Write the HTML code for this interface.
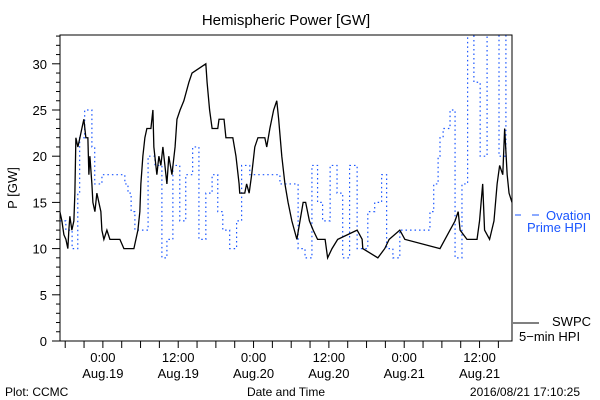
<!DOCTYPE html>
<html><head><meta charset="utf-8"><style>
body{margin:0;background:#fff;}
svg{display:block;font-family:"Liberation Sans",sans-serif;}
</style></head><body>
<svg id="chart" width="600" height="400" viewBox="0 0 600 400" xmlns="http://www.w3.org/2000/svg">
<rect width="600" height="400" fill="#fff"/>
<text x="286" y="25" font-size="15" text-anchor="middle">Hemispheric Power [GW]</text>
<text x="0" y="0" font-size="13" text-anchor="middle" transform="translate(17,188) rotate(-90)">P [GW]</text>
<text x="286" y="396" font-size="12" text-anchor="middle">Date and Time</text>
<text x="5" y="396" font-size="12">Plot: CCMC</text>
<text x="580" y="396" font-size="12" text-anchor="end">2016/08/21 17:10:25</text>
<g fill="#1a56ff" font-size="13">
<line x1="515" y1="215" x2="521" y2="215" stroke="#1a56ff"/><line x1="532" y1="215" x2="539" y2="215" stroke="#1a56ff"/>
<text x="546" y="220">Ovation</text><text x="527" y="232">Prime HPI</text>
</g>
<g font-size="13">
<line x1="513" y1="323" x2="539" y2="323" stroke="#000"/>
<text x="552" y="326">SWPC</text><text x="519" y="341">5−min HPI</text>
</g>
<defs><clipPath id="pc"><rect x="60" y="35" width="452" height="306"/></clipPath></defs>
<g id="axes"></g>
<g id="series" clip-path="url(#pc)"></g>
<rect x="60" y="35" width="452" height="306" fill="none" stroke="#000"/>
</svg>
<script>
const yTicks=[0,5,10,15,20,25,30];
const xTickHours=[0,12,24,36,48,60];
const xTickTimes=["0:00","12:00","0:00","12:00","0:00","12:00"];
const xTickDates=["Aug.19","Aug.19","Aug.20","Aug.20","Aug.21","Aug.21"];
const swpcHours=[-6.85,-6.53,-6.21,-5.89,-5.58,-5.42,-5.26,-4.94,-4.62,-4.46,-4.30,-3.98,-3.66,-3.35,-3.03,-2.71,-2.39,-2.23,-2.07,-1.75,-1.59,-1.27,-0.96,-0.64,-0.32,-0.16,0.16,0.64,1.12,2.71,3.35,4.94,5.26,5.58,5.89,6.05,6.37,6.69,7.01,7.65,7.97,8.12,8.44,8.60,8.92,9.24,9.56,9.88,10.2,10.5,11.0,11.5,11.8,12.3,12.9,13.7,14.2,16.4,16.6,17.0,17.4,18.3,18.5,19.3,19.6,20.7,21.2,21.7,21.8,22.6,22.9,23.3,23.7,24.2,24.7,25.8,26.1,26.6,27.2,27.7,28.0,28.5,29.0,29.5,30.1,30.9,31.4,31.9,32.3,32.9,33.5,34.2,35.4,35.8,36.5,37.4,40.5,41.3,41.4,43.8,44.9,45.6,47.3,48.1,53.7,54.5,55.3,56.1,56.6,56.9,58.0,59.6,60.0,60.5,60.8,61.6,62.3,62.8,63.2,63.7,64.0,64.4,64.7,65.17];
const swpcValues=[14,13,11.5,11,10,12,13.5,12,13,16,22,21,22,23,24,22,22,18,20,17,15,14,16,15,14,12,11,12,11,11,10,10,11,12,14,17,20,22,23,23,25,21,19,18,20,19,21,19,17,20,18,21,24,25,26,28,29,30,28,25,23,23,24,24,22,22,20,17,16,16,17,16,18,21,22,22,21,23,25,26,24,20,17,15,13,11,13,15,15,13,12,11,11,9,10,11,12,11,10,9,10,11,12,11,10,11,12,13,14,12,11,11,13,17,12,11,13,17,19,18,23,18,16,15];
const ovationHours=[-6.85,-5.9,-4.9,-4.0,-3.7,-2.9,-1.75,-1.3,-0.15,3.5,4.0,4.5,5.1,7.2,8.3,9.4,10.2,11.15,12.25,13.2,14.3,15.3,16.4,17.4,18.3,19.1,20.2,21.3,22.1,23.4,28.2,31.1,32.2,33.3,34.2,35.0,36.2,37.3,38.2,39.3,40.5,42.2,43.3,44.4,45.2,46.2,47.3,52.1,52.7,53.4,53.7,54.2,55.3,56.1,57.2,58.1,59.1,60.1,61.2,63.1,64.2,65.17];
const ovationValues=[13,12,10,16,22,25,21,17,18,17,16,14,12,20,19,9,11,19,13,18,21,11,16,18,14,12,10,13,19,18,17,10,9,19,15,13,19,16,9,19,10,14,15,18,10,9,12,14,17,20,22,23,25,9,17,34,28,20,34,20,34,34];
const X0=60,X1=512,T0=-6.83,T1=65.17,Y0=341,PPU=9.24;
function xs(t){return X0+(t-T0)*(X1-X0)/(T1-T0);}
function ys(v){return Y0-v*PPU;}
const NS="http://www.w3.org/2000/svg";
const axes=document.getElementById('axes'),series=document.getElementById('series');
function mk(tag,at,parent){const e=document.createElementNS(NS,tag);for(const k in at)e.setAttribute(k,at[k]);parent.appendChild(e);return e;}
for(let v=0;v<=33;v++){
  const major=v%5===0;
  const tk=mk('line',{x1:major?52:56,x2:60,y1:ys(v),y2:ys(v),stroke:'#000'},axes);
  
  
}
yTicks.forEach(v=>{
  const t=mk('text',{x:47,y:ys(v)+5,'font-size':13,'text-anchor':'end'},axes);t.textContent=v;
  
  
});
for(let h=-6;h<=65;h+=3){
  const tk=mk('line',{x1:xs(h),x2:xs(h),y1:341,y2:348,stroke:'#000'},axes);
  
  
}
xTickHours.forEach((h,i)=>{
  const a=mk('text',{x:xs(h),y:362,'font-size':13,'text-anchor':'middle'},axes);a.textContent=xTickTimes[i];
  
  
  const b=mk('text',{x:xs(h),y:378,'font-size':13,'text-anchor':'middle'},axes);b.textContent=xTickDates[i];
  
  
});
function stepPath(hs,vs){let d='M'+xs(hs[0])+','+ys(vs[0]);for(let i=1;i<hs.length;i++){d+=' H'+xs(hs[i])+' V'+ys(vs[i]);}return d;}
function linePath(hs,vs){let d='M'+xs(hs[0])+','+ys(vs[0]);for(let i=1;i<hs.length;i++){d+=' L'+xs(hs[i])+','+ys(vs[i]);}return d;}
const ov=mk('path',{d:stepPath(ovationHours,ovationValues),fill:'none',stroke:'#1a56ff','stroke-width':1.2,'stroke-dasharray':'1.5,3'},series);


const sw=mk('path',{d:linePath(swpcHours,swpcValues),fill:'none',stroke:'#000','stroke-width':1.3},series);


</script>
</body></html>
